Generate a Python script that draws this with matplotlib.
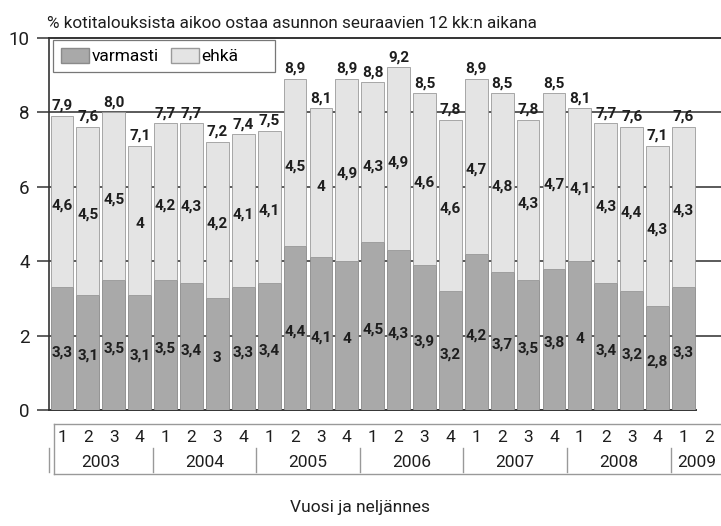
import matplotlib.pyplot as plt
import numpy as np
from matplotlib.patches import Patch, Rectangle
from matplotlib.lines import Line2D
from matplotlib.transforms import blended_transform_factory

plt.rcParams['font.family'] = ['Roboto', 'DejaVu Sans']

years = ['2003', '2004', '2005', '2006', '2007', '2008', '2009']
quarters = ['1', '2', '3', '4'] * 6 + ['1', '2']

varmasti = [3.3, 3.1, 3.5, 3.1, 3.5, 3.4, 3.0, 3.3, 3.4, 4.4, 4.1, 4.0,
            4.5, 4.3, 3.9, 3.2, 4.2, 3.7, 3.5, 3.8, 4.0, 3.4, 3.2, 2.8, 3.3]
ehka = [4.6, 4.5, 4.5, 4.0, 4.2, 4.3, 4.2, 4.1, 4.1, 4.5, 4.0, 4.9,
        4.3, 4.9, 4.6, 4.6, 4.7, 4.8, 4.3, 4.7, 4.1, 4.3, 4.4, 4.3, 4.3]
totals = [7.9, 7.6, 8.0, 7.1, 7.7, 7.7, 7.2, 7.4, 7.5, 8.9, 8.1, 8.9,
          8.8, 9.2, 8.5, 7.8, 8.9, 8.5, 7.8, 8.5, 8.1, 7.7, 7.6, 7.1, 7.6]

dark = '#a9a9a9'
light = '#e4e4e4'
txt = '#1e1e1e'

def fi(v):
    s = f'{v:.1f}'.replace('.', ',')
    return s[:-2] if s.endswith(',0') else s

fig = plt.figure(figsize=(7.21, 5.26), dpi=100)
ax = fig.add_axes([0.068, 0.2205, 0.932, 0.708])

x = np.arange(len(varmasti))
v = np.array(varmasti)
e = np.array(ehka)

ax.bar(x, v, width=0.88, color=dark, edgecolor='#8a8a8a', linewidth=0.6, zorder=3)
ax.bar(x, e, bottom=v, width=0.88, color=light, edgecolor='#9a9a9a', linewidth=0.6, zorder=3)

# value labels: segment values inside, totals on top
lab = dict(fontsize=11, fontweight='bold', color=txt, zorder=5)
for i in range(len(x)):
    ax.text(x[i], v[i] / 2 - 0.1, fi(v[i]), ha='center', va='center', **lab)
    ax.text(x[i], v[i] + e[i] / 2 - 0.1, fi(e[i]), ha='center', va='center', **lab)
    ax.text(x[i], totals[i] + 0.08, f'{totals[i]:.1f}'.replace('.', ','),
            ha='center', va='bottom', **lab)

ax.set_xlim(-0.5, 25.45)
ax.set_ylim(0, 10)
ax.set_yticks([0, 2, 4, 6, 8, 10])
ax.tick_params(axis='y', length=9, width=1.2, color='#444444', labelsize=13.5,
               labelcolor=txt, pad=5)
ax.set_xticks([])
for y in [2, 4, 6, 8]:
    ax.axhline(y, color='#5a5a5a', linewidth=1.4, zorder=1)

ax.spines['right'].set_visible(False)
ax.spines['top'].set_color('#333333')
ax.spines['top'].set_linewidth(1.4)
ax.spines['left'].set_color('#333333')
ax.spines['left'].set_linewidth(1.2)
ax.spines['bottom'].set_color('#333333')
ax.spines['bottom'].set_linewidth(1.4)
ax.spines['bottom'].set_bounds(-0.5, len(x) - 0.5)

ax.set_title('% kotitalouksista aikoo ostaa asunnon seuraavien 12 kk:n aikana',
             loc='left', x=-0.003, fontsize=12.3, color=txt, pad=7)

# legend with its own wider frame
ax.add_patch(Rectangle((0.006, 0.907), 0.33, 0.086, transform=ax.transAxes,
                       facecolor='white', edgecolor='#777777', linewidth=0.9,
                       zorder=6))
handles = [Patch(facecolor=dark, edgecolor='#8a8a8a', label='varmasti'),
           Patch(facecolor=light, edgecolor='#9a9a9a', label='ehkä')]
leg = ax.legend(handles=handles, loc='center left', bbox_to_anchor=(0.008, 0.95),
                ncol=2, fontsize=12.5, frameon=False,
                handlelength=1.6, handleheight=0.9, handletextpad=0.15,
                columnspacing=0.7, borderpad=0.4, borderaxespad=0.0)
leg.set_zorder(7)

# category axis drawn below the plot: quarters, years and a frame
tr = blended_transform_factory(ax.transData, fig.transFigure)
for i, q in enumerate(quarters):
    ax.text(i, 0.169, q, transform=tr, ha='center', va='center',
            fontsize=12.5, color=txt, clip_on=False)
year_centers = [1.5, 5.5, 9.5, 13.5, 17.5, 21.5, 24.5]
for yr, c in zip(years, year_centers):
    ax.text(c, 0.121, yr, transform=tr, ha='center', va='center',
            fontsize=12.5, color=txt, clip_on=False)
for sx in [-0.5, 3.5, 7.5, 11.5, 15.5, 19.5, 23.5]:
    ax.add_line(Line2D([sx, sx], [0.102, 0.148], transform=tr, color='#999999',
                       linewidth=1.0, clip_on=False))
frame_kw = dict(transform=tr, color='#999999', linewidth=1.0, clip_on=False)
ax.add_line(Line2D([-0.31, 26], [0.194, 0.194], **frame_kw))
ax.add_line(Line2D([-0.31, 26], [0.099, 0.099], **frame_kw))
ax.add_line(Line2D([-0.31, -0.31], [0.099, 0.194], **frame_kw))

fig.text(0.5, 0.036, 'Vuosi ja neljännes', ha='center', va='center',
         fontsize=12.5, color=txt)

fig.savefig('out.png', dpi=100)
